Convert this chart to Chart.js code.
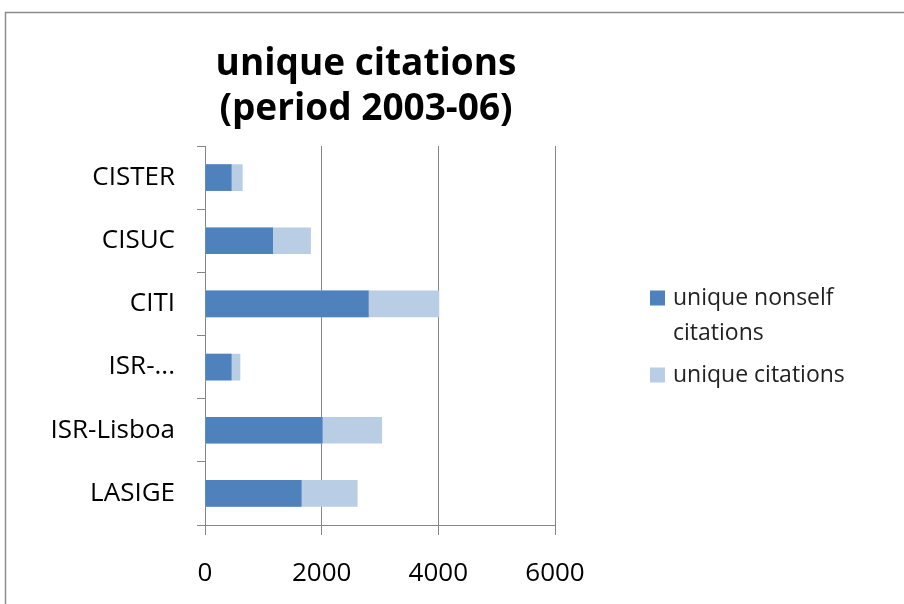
<!DOCTYPE html>
<html>
<head>
<meta charset="utf-8">
<title>unique citations (period 2003-06)</title>
<script src="https://cdn.jsdelivr.net/npm/chart.js@4/dist/chart.umd.min.js"></script>
<style>
  html, body { margin: 0; padding: 0; background: #fff; }
  canvas { display: block; }
</style>
</head>
<body>
<canvas id="citationsChart" width="904" height="604"></canvas>
<script>
// =====> data <=====
const categories = ["CISTER", "CISUC", "CITI", "ISR-...", "ISR-Lisboa", "LASIGE"];
const nonselfCitations = [450, 1160, 2800, 450, 2010, 1650];
const uniqueCitations = [640, 1810, 4010, 600, 3030, 2610];
const xTicks = [0, 2000, 4000, 6000];
const titleLines = ["unique citations", "(period 2003-06)"];

const darkBlue = "#4F81BD";
const lightBlue = "#B9CDE5";
const axisGray = "#868686";

Chart.defaults.font.family = "'Open Sans', sans-serif";
Chart.defaults.color = "#000";

// frame + title drawn by hand (title is centred over the plot, not the canvas)
const framePlugin = {
  id: "frameAndTitle",
  beforeDraw(chart) {
    const ctx = chart.ctx;
    ctx.save();
    ctx.fillStyle = "#fff";
    ctx.fillRect(0, 0, chart.width, chart.height);
    ctx.strokeStyle = "#8c8c8c";
    ctx.lineWidth = 1.5;
    ctx.strokeRect(5.5, 12.5, chart.width + 20, chart.height + 20);
    ctx.restore();
  },
  afterDraw(chart) {
    const ctx = chart.ctx;
    ctx.save();
    ctx.fillStyle = "#000";
    ctx.font = "bold 37px 'Open Sans', sans-serif";
    ctx.textAlign = "center";
    ctx.textBaseline = "alphabetic";
    ctx.fillText(titleLines[0], 366, 75);
    ctx.fillText(titleLines[1], 366, 120);
    ctx.restore();
  },
};

// legend on the right with wrapped labels (like Excel does)
const sideLegend = {
  id: "sideLegend",
  afterDraw(chart) {
    const ctx = chart.ctx;
    const boxX = 650, textX = 673, maxW = 215, lineH = 35;
    let y = 298;
    ctx.save();
    ctx.font = "23px 'Open Sans', sans-serif";
    ctx.textBaseline = "middle";
    ctx.textAlign = "left";
    chart.data.datasets.forEach((ds) => {
      // word wrap
      let lines = [];
      let cur = "";
      ds.label.split(" ").forEach((w) => {
        let test = cur ? cur + " " + w : w;
        if (ctx.measureText(test).width > maxW && cur) {
          lines.push(cur);
          cur = w;
        } else {
          cur = test;
        }
      });
      lines.push(cur);

      ctx.fillStyle = ds.backgroundColor;
      ctx.fillRect(boxX, y - 7.5, 15, 15);
      ctx.fillStyle = "#222";
      lines.forEach((ln, i) => ctx.fillText(ln, textX, y + i * lineH));
      y += lines.length * lineH + 7;
    });
    ctx.restore();
  },
};

new Chart("citationsChart", {
  type: "bar",
  data: {
    labels: categories,
    datasets: [
      {
        label: "unique nonself citations",
        data: nonselfCitations,
        backgroundColor: darkBlue,
        grouped: false,
        barThickness: 26,
      },
      {
        label: "unique citations",
        data: uniqueCitations,
        backgroundColor: lightBlue,
        grouped: false,
        barThickness: 26,
      },
    ],
  },
  options: {
    indexAxis: "y",
    responsive: false,
    animation: false,
    layout: { padding: { top: 146, right: 349, left: 0, bottom: 0 } },
    plugins: {
      legend: { display: false },
      title: { display: false },
      tooltip: { enabled: false },
    },
    scales: {
      x: {
        min: 0,
        max: 6000,
        afterBuildTicks: (scale) => {
          scale.ticks = xTicks.map((v) => ({ value: v }));
        },
        afterFit: (scale) => {
          scale.height = 79;
        },
        ticks: {
          font: { size: 26 },
          color: "#000",
          padding: 23,
          maxRotation: 0,
          callback: (value) => String(value),
        },
        grid: {
          color: axisGray,
          lineWidth: 1,
          tickLength: 10,
        },
        border: { color: axisGray, width: 1 },
      },
      y: {
        afterFit: (scale) => {
          scale.width = 205;
        },
        ticks: {
          font: { size: 26 },
          color: "#000",
          padding: 22,
        },
        grid: {
          drawOnChartArea: false,
          color: axisGray,
          tickLength: 8,
        },
        border: { color: axisGray, width: 1 },
      },
    },
  },
  plugins: [framePlugin, sideLegend],
});
</script>
</body>
</html>
